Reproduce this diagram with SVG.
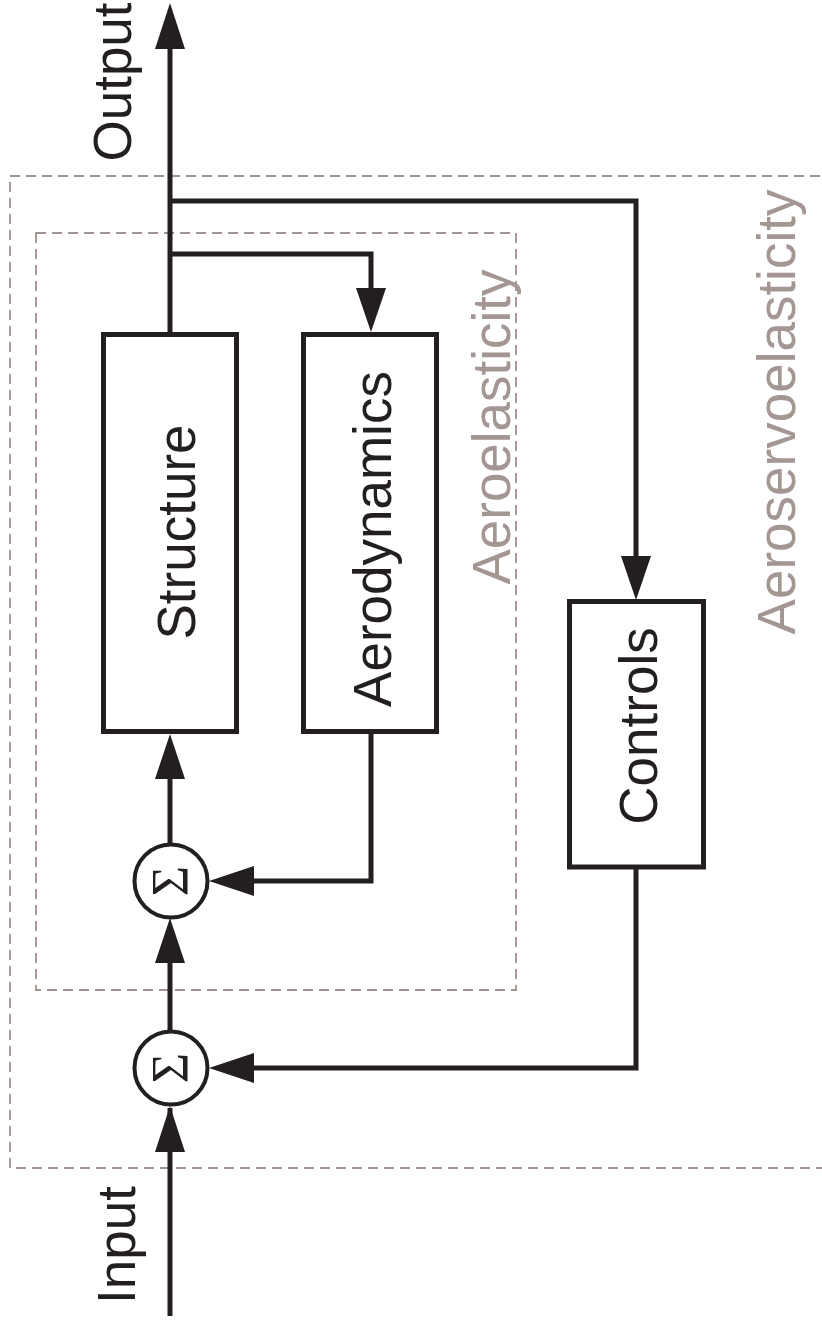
<svg xmlns="http://www.w3.org/2000/svg" width="822" height="1332" viewBox="0 0 822 1332">
<defs>
<style>
.ln{fill:none;stroke:#231f20;stroke-width:5}
.box{fill:#fff;stroke:#231f20;stroke-width:5}
.dash{fill:none;stroke:#a0938f;stroke-width:1.8;stroke-dasharray:10 6}
.ah{fill:#231f20}
.lbl{font-family:"Liberation Sans",Arial,sans-serif;font-size:53px;fill:#231f20;text-anchor:middle}
.grey{font-family:"Liberation Sans",Arial,sans-serif;font-size:53px;fill:#a39693;text-anchor:middle}
.sig{font-family:"Liberation Serif","Times New Roman",serif;font-size:52px;fill:#231f20;text-anchor:middle}
</style>
</defs>
<rect width="822" height="1332" fill="#fff"/>
<g id="aeroservoelasticity">
<rect class="dash" x="10" y="176" width="840" height="992"/>
<text class="grey" transform="translate(795,412) rotate(-90)">Aeroservoelasticity</text>
</g>
<g id="aeroelasticity">
<rect class="dash" x="36" y="233" width="480" height="757"/>
<text class="grey" transform="translate(510,427) rotate(-90)">Aeroelasticity</text>
</g>
<g id="connectors">
<path class="ln" d="M170,1316 V1108"/>
<polygon class="ah" points="170,1106 155,1152 185,1152"/>
<path class="ln" d="M170,1031 V960"/>
<polygon class="ah" points="170,918 155,963 185,963"/>
<path class="ln" d="M170,844 V775"/>
<polygon class="ah" points="170,734 155,779 185,779"/>
<path class="ln" d="M170,334 V45"/>
<polygon class="ah" points="170,3 155,49 185,49"/>
<path class="ln" d="M170,254 H371 V290"/>
<polygon class="ah" points="371,332 356,288 386,288"/>
<path class="ln" d="M170,201 H636 V560"/>
<polygon class="ah" points="636,600 621,556 651,556"/>
<path class="ln" d="M371,732 V881 H250"/>
<polygon class="ah" points="209,881 254,866 254,896"/>
<path class="ln" d="M636,867 V1068 H250"/>
<polygon class="ah" points="209,1068 254,1053 254,1083"/>
</g>
<g id="output">
<text class="lbl" transform="translate(131,82) rotate(-90)">Output</text>
</g>
<g id="input">
<text class="lbl" transform="translate(135,1245) rotate(-90)">Input</text>
</g>
<g id="structure">
<rect class="box" x="103.5" y="334.5" width="133" height="397"/>
<text class="lbl" transform="translate(195,532) rotate(-90)">Structure</text>
</g>
<g id="aerodynamics">
<rect class="box" x="303.5" y="334.5" width="133" height="397"/>
<text class="lbl" transform="translate(391,539) rotate(-90)">Aerodynamics</text>
</g>
<g id="controls">
<rect class="box" x="569.5" y="601.5" width="134" height="265.5"/>
<text class="lbl" transform="translate(657,726) rotate(-90)">Controls</text>
</g>
<g id="sum1">
<circle cx="171" cy="881" r="36.5" fill="#fff" stroke="#231f20" stroke-width="4"/>
<text class="sig" transform="translate(188,881) rotate(-90)">Σ</text>
</g>
<g id="sum2">
<circle cx="171" cy="1068" r="36.5" fill="#fff" stroke="#231f20" stroke-width="4"/>
<text class="sig" transform="translate(188,1068) rotate(-90)">Σ</text>
</g>
</svg>
